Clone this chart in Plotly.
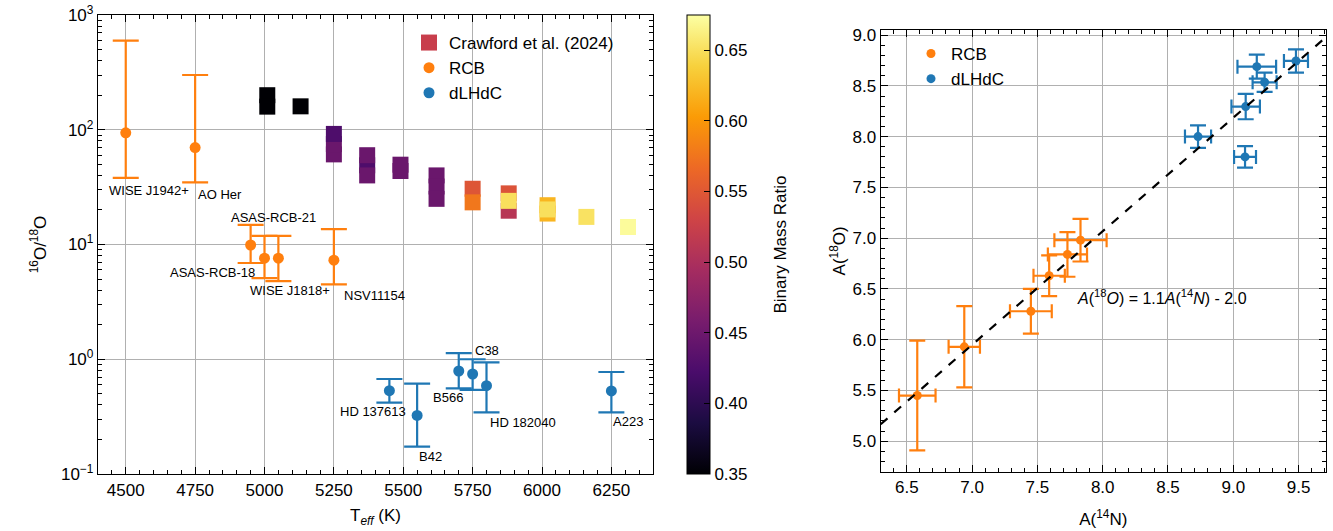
import numpy as np
import plotly.graph_objects as go

# ---------------- data: left panel ----------------
crawford_teff = [5010, 5010, 5130, 5250, 5250, 5250, 5370, 5370, 5370, 5490, 5490,
                 5620, 5620, 5620, 5750, 5750, 5880, 5880, 5880, 6020, 6020, 6020, 6160, 6310]
crawford_ratio = [200, 159, 160, 61, 75, 92, 49, 60, 40, 49.6, 43.7,
                  40, 32, 25, 30.6, 23.3, 19.7, 27.9, 24.0, 22, 18.6, 20.2, 17.4, 14.2]
crawford_q = [0.35, 0.35, 0.35, 0.447, 0.447, 0.425, 0.425, 0.447, 0.447, 0.447, 0.447,
              0.447, 0.447, 0.447, 0.548, 0.577, 0.51, 0.545, 0.65, 0.62, 0.62, 0.65, 0.652, 0.672]

rcb_names = ["WISE J1942+", "AO Her", "ASAS-RCB-21", "ASAS-RCB-18", "WISE J1818+", "NSV11154"]
rcb_teff = [4500, 4750, 4950, 5000, 5050, 5250]
rcb_ratio = [94, 70, 9.9, 7.6, 7.6, 7.3]
rcb_upper = [597, 300, 14.8, 11.9, 11.9, 13.6]
rcb_lower = [38, 34.8, 6.9, 5.1, 4.8, 4.5]

dl_names = ["HD 137613", "B42", "B566", "C38", "HD 182040", "A223"]
dl_teff = [5450, 5550, 5700, 5750, 5800, 6250]
dl_ratio = [0.532, 0.324, 0.79, 0.744, 0.589, 0.53]
dl_upper = [0.673, 0.612, 1.13, 1.0, 0.94, 0.774]
dl_lower = [0.418, 0.173, 0.558, 0.54, 0.344, 0.344]

y1_tickvals = [0.1, 1, 10, 100, 1000]
y1_ticktext = ["10<sup>−1</sup>", "10<sup>0</sup>", "10<sup>1</sup>", "10<sup>2</sup>", "10<sup>3</sup>"]

# ---------------- data: right panel ----------------
rcb_N = [6.58, 6.94, 7.45, 7.59, 7.73, 7.83]
rcb_N_err = [0.14, 0.12, 0.16, 0.12, 0.15, 0.2]
rcb_O = [5.45, 5.93, 6.28, 6.63, 6.84, 6.98]
rcb_O_err = [0.54, 0.4, 0.22, 0.2, 0.22, 0.21]

dl_N = [8.73, 9.09, 9.095, 9.18, 9.24, 9.48]
dl_N_err = [0.1, 0.084, 0.109, 0.148, 0.092, 0.092]
dl_O = [8.0, 7.80, 8.296, 8.689, 8.535, 8.745]
dl_O_err = [0.11, 0.106, 0.125, 0.118, 0.095, 0.115]

fit_slope = 1.118
fit_intercept = -1.876

# ---------------- styling ----------------
ORANGE = "#ff7f0e"
BLUE = "#1f77b4"
FONT = "Liberation Sans"
W, H = 1333, 531

fig = go.Figure()

# Crawford squares
fig.add_trace(go.Scatter(
    x=crawford_teff, y=crawford_ratio, mode="markers", showlegend=False,
    marker=dict(symbol="square", size=16, color=crawford_q, colorscale="Inferno",
                cmin=0.35, cmax=0.675, line=dict(width=0),
                colorbar=dict(x=686.7 / W, xanchor="left", y=1 - 244.5 / H, yanchor="middle",
                              thickness=23, thicknessmode="pixels", len=459, lenmode="pixels",
                              ypad=0, xpad=0,
                              outlinewidth=1, outlinecolor="black",
                              ticks="inside", ticklen=6, tickcolor="black",
                              tick0=0.35, dtick=0.05, tickformat=".2f",
                              tickfont=dict(size=17, family=FONT, color="black"))),
    xaxis="x", yaxis="y"))
# legend entry for Crawford
fig.add_trace(go.Scatter(x=[None], y=[None], mode="markers", name="Crawford et al. (2024)",
                         marker=dict(symbol="square", size=16, color="#c83e4c"),
                         xaxis="x", yaxis="y", legend="legend"))

fig.add_trace(go.Scatter(
    x=rcb_teff, y=rcb_ratio, mode="markers", name="RCB",
    marker=dict(size=11, color=ORANGE),
    error_y=dict(type="data", symmetric=False,
                 array=[u - v for u, v in zip(rcb_upper, rcb_ratio)],
                 arrayminus=[v - l for v, l in zip(rcb_ratio, rcb_lower)],
                 color=ORANGE, thickness=2.2, width=13),
    xaxis="x", yaxis="y", legend="legend"))
fig.add_trace(go.Scatter(
    x=dl_teff, y=dl_ratio, mode="markers", name="dLHdC",
    marker=dict(size=11, color=BLUE),
    error_y=dict(type="data", symmetric=False,
                 array=[u - v for u, v in zip(dl_upper, dl_ratio)],
                 arrayminus=[v - l for v, l in zip(dl_ratio, dl_lower)],
                 color=BLUE, thickness=2.2, width=13),
    xaxis="x", yaxis="y", legend="legend"))

# right panel
fig.add_trace(go.Scatter(
    x=rcb_N, y=rcb_O, mode="markers", name="RCB",
    marker=dict(size=9, color=ORANGE),
    error_x=dict(type="data", array=rcb_N_err, color=ORANGE, thickness=2.2, width=7),
    error_y=dict(type="data", array=rcb_O_err, color=ORANGE, thickness=2.2, width=8),
    xaxis="x2", yaxis="y2", legend="legend2"))
fig.add_trace(go.Scatter(
    x=dl_N, y=dl_O, mode="markers", name="dLHdC",
    marker=dict(size=9, color=BLUE),
    error_x=dict(type="data", array=dl_N_err, color=BLUE, thickness=2.2, width=7),
    error_y=dict(type="data", array=dl_O_err, color=BLUE, thickness=2.2, width=8),
    xaxis="x2", yaxis="y2", legend="legend2"))

x2_range = [6.3, 9.71]
fit_x = np.array(x2_range)
fig.add_trace(go.Scatter(
    x=fit_x, y=fit_slope * fit_x + fit_intercept, mode="lines", showlegend=False,
    line=dict(color="black", width=2.2, dash="dash"),
    xaxis="x2", yaxis="y2"))

# ---------------- annotations ----------------
annotations = []
rcb_label_style = [  # (xanchor, xshift, yshift)
    ("left", -19, -58), ("left", 1, -47), ("left", -22, 27),
    ("right", -8, -14), ("left", -30, -32), ("left", 8, -35)]
dl_label_style = [
    ("right", 19, -21), ("left", 0, -41), ("left", -28, -26),
    ("left", 0, 23), ("left", 1, -37), ("left", 0, -31)]
for names, xs, ys, styles in [(rcb_names, rcb_teff, rcb_ratio, rcb_label_style),
                              (dl_names, dl_teff, dl_ratio, dl_label_style)]:
    for n, xv, yv, (xa, xs_, ys_) in zip(names, xs, ys, styles):
        annotations.append(dict(x=xv, y=np.log10(yv), xref="x", yref="y", text=n,
                                showarrow=False, xanchor=xa, yanchor="middle",
                                xshift=xs_, yshift=ys_,
                                font=dict(size=13, family=FONT, color="black")))
annotations.append(dict(
    x=7.79, y=6.42, xref="x2", yref="y2", showarrow=False, xanchor="left", yanchor="middle",
    text="<i>A</i>(<sup>18</sup><i>O</i>) = 1.1<i>A</i>(<sup>14</sup><i>N</i>) - 2.0",
    font=dict(size=16, family=FONT, color="black")))
# colorbar title
annotations.append(dict(
    x=780 / W, y=1 - 244.5 / H, xref="paper", yref="paper", showarrow=False,
    xanchor="center", yanchor="middle", textangle=-90, text="Binary Mass Ratio",
    font=dict(size=17, family=FONT, color="black")))

axis_common = dict(showline=True, linecolor="black", linewidth=1.3, mirror="allticks",
                   ticks="inside", ticklen=7, tickwidth=1.2, tickcolor="black",
                   showgrid=True, gridcolor="#b0b0b0", gridwidth=1, zeroline=False,
                   automargin=False,
                   tickfont=dict(size=17, family=FONT, color="black"))
minor_common = dict(ticks="inside", ticklen=4, tickwidth=1, tickcolor="black", showgrid=False)

fig.update_layout(
    width=W, height=H, margin=dict(l=0, r=0, t=0, b=0, autoexpand=False),
    paper_bgcolor="white", plot_bgcolor="white",
    font=dict(family=FONT, color="black"),
    xaxis=dict(domain=[98 / W, 653 / W], range=[4400, 6400], dtick=250, tick0=4500,
               minor=dict(dtick=50, **minor_common),
               title=dict(text="T<sub><i>eff</i></sub> (K)", font=dict(size=17, family=FONT),
                          standoff=10),
               anchor="y", **axis_common),
    yaxis=dict(domain=[1 - 474 / H, 1 - 15 / H], type="log", range=[-1, 3],
               tickmode="array", tickvals=y1_tickvals, ticktext=y1_ticktext,
               minor=dict(dtick="D1", **minor_common),
               title=dict(text="<sup>16</sup>O/<sup>18</sup>O", font=dict(size=17, family=FONT),
                          standoff=10),
               anchor="x", **axis_common),
    xaxis2=dict(domain=[880.7 / W, 1326 / W], range=x2_range, dtick=0.5, tick0=6.5,
                tickformat=".1f", minor=dict(dtick=0.1, **minor_common),
                title=dict(text="A(<sup>14</sup>N)", font=dict(size=17, family=FONT), standoff=16),
                anchor="y2", **axis_common),
    yaxis2=dict(domain=[1 - 471.7 / H, 1 - 30 / H], range=[4.7, 9.05], dtick=0.5, tick0=5.0,
                tickformat=".1f", minor=dict(dtick=0.1, **minor_common),
                title=dict(text="A(<sup>18</sup>O)", font=dict(size=17, family=FONT), standoff=2),
                anchor="x2", **axis_common),
    legend=dict(x=409 / W, y=1 - 25 / H, xanchor="left", yanchor="top",
                bgcolor="rgba(0,0,0,0)", font=dict(size=17, family=FONT), tracegroupgap=0),
    legend2=dict(x=911 / W, y=1 - 36 / H, xanchor="left", yanchor="top",
                 bgcolor="rgba(0,0,0,0)", font=dict(size=17, family=FONT)),
    annotations=annotations,
)

fig.write_html("out.html", config={"displayModeBar": False},
               post_script="document.body.style.margin='0';")
